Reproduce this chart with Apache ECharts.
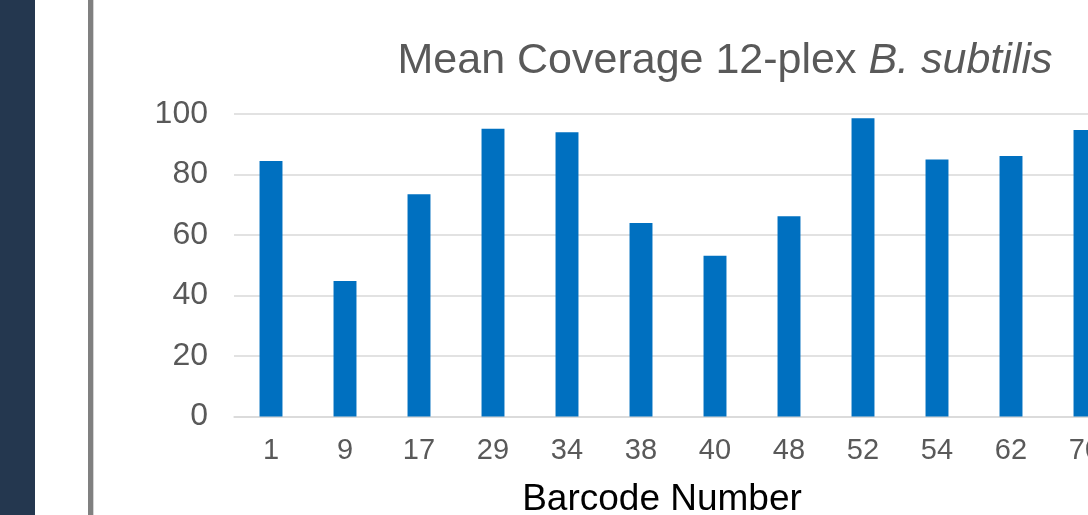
<!DOCTYPE html>
<html>
<head>
<meta charset="utf-8">
<title>Mean Coverage 12-plex B. subtilis</title>
<script src="https://cdn.jsdelivr.net/npm/echarts@6/dist/echarts.min.js"></script>
<style>
  html, body { margin: 0; padding: 0; background: #ffffff; }
  #chart { width: 1088px; height: 515px; }
</style>
</head>
<body>
<div id="chart"></div>
<script>
// Barcodes in the 12-plex run and their mean coverage
const barcodes = ['1', '9', '17', '29', '34', '38', '40', '48', '52', '54', '62', '70'];
const meanCoverage = [84.5, 44.8, 73.5, 95.1, 94.0, 64.0, 53.1, 66.2, 98.6, 85.0, 86.1, 94.7];
const yTicks = [0, 20, 40, 60, 80, 100];

const FONT = 'Liberation Sans, Arial, sans-serif';
const chart = echarts.init(document.getElementById('chart'), null, { renderer: 'canvas' });

chart.setOption({
  backgroundColor: '#ffffff',
  animation: false,
  title: [
    {
      text: '{n|Mean Coverage 12-plex }{i|B. subtilis}',
      left: 720,
      textAlign: 'center',
      top: 35,
      textStyle: {
        fontWeight: 'normal',
        rich: {
          n: { fontFamily: FONT, fontSize: 43, fontWeight: 'normal', color: '#595959' },
          i: { fontFamily: FONT, fontSize: 43, fontWeight: 'normal', color: '#595959', fontStyle: 'italic' }
        }
      }
    },
    {
      text: 'Barcode Number',
      left: 657,
      textAlign: 'center',
      top: 476,
      textStyle: { fontFamily: FONT, fontSize: 37, fontWeight: 'normal', color: '#000000' }
    }
  ],
  graphic: [
    { type: 'rect', left: 0, top: 0, shape: { width: 35, height: 515 }, style: { fill: '#24374F' }, z: 10 },
    { type: 'rect', left: 88, top: 0, shape: { width: 5, height: 515 }, style: { fill: '#808080' }, z: 10 },
    { type: 'rect', left: 93, top: 0, shape: { width: 1, height: 515 }, style: { fill: '#D4D4D4' }, z: 10 }
  ],
  // plot area runs past the right edge of the page
  grid: { left: 234, width: 888, top: 114, bottom: 98.5, containLabel: false, outerBoundsMode: 'none' },
  xAxis: {
    type: 'category',
    data: barcodes,
    axisLine: { show: true, lineStyle: { color: '#D9D9D9', width: 1.5 } },
    axisTick: { show: false },
    axisLabel: { color: '#595959', fontSize: 29, fontFamily: FONT, margin: 20, interval: 0, hideOverlap: false }
  },
  yAxis: {
    type: 'value',
    min: yTicks[0],
    max: yTicks[yTicks.length - 1],
    interval: yTicks[1] - yTicks[0],
    axisLine: { show: false },
    axisTick: { show: false },
    splitLine: { lineStyle: { color: '#D9D9D9', width: 1.5 } },
    axisLabel: { color: '#595959', fontSize: 32, fontFamily: FONT, margin: 26 }
  },
  series: [{
    type: 'bar',
    data: meanCoverage,
    barWidth: '31%',
    itemStyle: { color: '#0070C0' }
  }]
});
</script>
</body>
</html>
